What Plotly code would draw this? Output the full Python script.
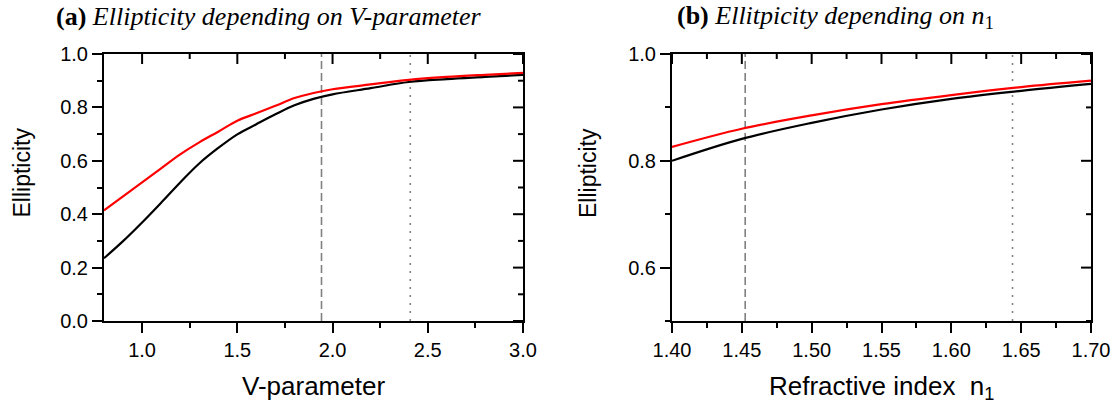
import numpy as np
import plotly.graph_objects as go

# ---------------- data ----------------
v_param = [0.8, 0.9, 1.0, 1.1, 1.2, 1.3, 1.4, 1.5, 1.6, 1.7, 1.8, 1.9, 2.0, 2.2, 2.4, 2.6, 2.8, 3.0]
ell_a_red = [0.414, 0.467, 0.519, 0.572, 0.624, 0.669, 0.709, 0.750, 0.778, 0.806, 0.835, 0.854, 0.868, 0.886, 0.903, 0.914, 0.922, 0.929]
ell_a_black = [0.235, 0.299, 0.369, 0.443, 0.519, 0.590, 0.648, 0.699, 0.737, 0.774, 0.808, 0.832, 0.849, 0.872, 0.895, 0.906, 0.914, 0.922]

n1 = [1.40, 1.45, 1.50, 1.55, 1.60, 1.65, 1.70]
ell_b_red = [0.826, 0.860, 0.885, 0.906, 0.923, 0.938, 0.950]
ell_b_black = [0.800, 0.841, 0.871, 0.896, 0.916, 0.931, 0.944]

vline_a_dashed = 1.942
vline_a_dotted = 2.408
vline_b_dashed = 1.4524
vline_b_dotted = 1.6438

range_a_x = [0.8, 3.0]
range_a_y = [0.0, 1.0]
range_b_x = [1.40, 1.70]
range_b_y = [0.5, 1.0]

# tick spacing (major, minor)
dtick_a_x = (0.5, 0.25)
dtick_a_y = (0.2, 0.1)
dtick_b_x = (0.05, 0.025)
dtick_b_y = (0.2, 0.1)

# ---------------- layout geometry ----------------
W, H = 1115, 403
def px(x):
    return x / W
def py(y):
    return 1 - y / H

PLOT_L_A, PLOT_R_A = 104, 523
PLOT_L_B, PLOT_R_B = 672, 1091
PLOT_T, PLOT_B = 54, 321
dom_a = [px(PLOT_L_A), px(PLOT_R_A)]
dom_b = [px(PLOT_L_B), px(PLOT_R_B)]
dom_y = [py(PLOT_B), py(PLOT_T)]

TICKFONT = dict(family="Liberation Sans, Arial, sans-serif", size=20, color="black")
XTITLEFONT = dict(family="Liberation Sans, Arial, sans-serif", size=26, color="black")
YTITLEFONT = dict(family="Liberation Sans, Arial, sans-serif", size=23, color="black")
SERIF = dict(family="Liberation Serif, Times New Roman, serif", size=26, color="black")

MAJOR_LEN, MINOR_LEN = 10, 5

fig = go.Figure()

# main curves
fig.add_trace(go.Scatter(x=v_param, y=ell_a_black, mode="lines", line=dict(color="black", width=2.2, shape="spline"),
                         xaxis="x", yaxis="y", showlegend=False))
fig.add_trace(go.Scatter(x=v_param, y=ell_a_red, mode="lines", line=dict(color="#ff0000", width=2.2, shape="spline"),
                         xaxis="x", yaxis="y", showlegend=False))
fig.add_trace(go.Scatter(x=n1, y=ell_b_black, mode="lines", line=dict(color="black", width=2.2, shape="spline"),
                         xaxis="x2", yaxis="y2", showlegend=False))
fig.add_trace(go.Scatter(x=n1, y=ell_b_red, mode="lines", line=dict(color="#ff0000", width=2.2, shape="spline"),
                         xaxis="x2", yaxis="y2", showlegend=False))

# inward-pointing mirror ticks on the top and right frame edges (computed from ranges / tick spacing)
def tick_values(rng, step):
    start = np.ceil(rng[0] / step - 1e-9) * step
    return [round(v, 6) for v in np.arange(start, rng[1] + step * 1e-6, step)]

def is_major(v, major):
    return abs(v / major - round(v / major)) < 1e-6

def mirror_ticks(xr, yr, dx, dy, wpx, hpx, xa, ya):
    xs, ys = [], []
    ylen = (yr[1] - yr[0]) / hpx
    xlen = (xr[1] - xr[0]) / wpx
    for v in tick_values(xr, dx[1]):
        L = (MAJOR_LEN if is_major(v, dx[0]) else MINOR_LEN) * ylen
        xs += [v, v, None]
        ys += [yr[1], yr[1] - L, None]
    for v in tick_values(yr, dy[1]):
        L = (MAJOR_LEN if is_major(v, dy[0]) else MINOR_LEN) * xlen
        xs += [xr[1], xr[1] - L, None]
        ys += [v, v, None]
    fig.add_trace(go.Scatter(x=xs, y=ys, mode="lines", line=dict(color="black", width=2),
                             xaxis=xa, yaxis=ya, showlegend=False, hoverinfo="skip", cliponaxis=False))

mirror_ticks(range_a_x, range_a_y, dtick_a_x, dtick_a_y, PLOT_R_A - PLOT_L_A, PLOT_B - PLOT_T, "x", "y")
mirror_ticks(range_b_x, range_b_y, dtick_b_x, dtick_b_y, PLOT_R_B - PLOT_L_B, PLOT_B - PLOT_T, "x2", "y2")

# vertical reference lines
GREY = "#808080"
fig.add_vline(x=vline_a_dashed, line=dict(color=GREY, width=1.6, dash="8px,4px"), xref="x", yref="y", layer="below")
fig.add_vline(x=vline_a_dotted, line=dict(color=GREY, width=1.6, dash="2px,6px"), xref="x", yref="y", layer="below")
fig.add_vline(x=vline_b_dashed, line=dict(color=GREY, width=1.6, dash="8px,4px"), xref="x2", yref="y2", layer="below")
fig.add_vline(x=vline_b_dotted, line=dict(color=GREY, width=1.6, dash="2px,6px"), xref="x2", yref="y2", layer="below")

def main_axis(dom, rng, dt, fmt, anchor, side):
    return dict(domain=dom, range=rng, anchor=anchor, side=side, showgrid=False, zeroline=False,
                showline=True, linecolor="black", linewidth=2, mirror=True, automargin=False,
                ticks="outside", ticklen=MAJOR_LEN, tickwidth=2, tickcolor="black",
                tick0=0, dtick=dt[0], tickformat=fmt, tickfont=TICKFONT,
                minor=dict(ticks="outside", ticklen=MINOR_LEN, tickwidth=2, tickcolor="black",
                           dtick=dt[1], tick0=0, showgrid=False),
                fixedrange=True)

fig.update_layout(
    width=W, height=H, autosize=False,
    margin=dict(l=0, r=0, t=0, b=0, autoexpand=False),
    paper_bgcolor="white", plot_bgcolor="white",
    xaxis=main_axis(dom_a, range_a_x, dtick_a_x, ".1f", "y", "bottom"),
    yaxis=main_axis(dom_y, range_a_y, dtick_a_y, ".1f", "x", "left"),
    xaxis2=main_axis(dom_b, range_b_x, dtick_b_x, ".2f", "y2", "bottom"),
    yaxis2=main_axis(dom_y, range_b_y, dtick_b_y, ".1f", "x2", "left"),
)

annotations = [
    dict(text="<b>(a)</b> <i>Ellipticity depending on V-parameter</i>", x=px(54), y=py(17),
         xanchor="left", yanchor="middle", font=SERIF),
    dict(text="<b>(b)</b> <i>Ellitpicity depending on n</i><sub>1</sub>", x=px(675), y=py(17),
         xanchor="left", yanchor="middle", font=SERIF),
    dict(text="V-parameter", x=(dom_a[0] + dom_a[1]) / 2, y=py(369), xanchor="center", yanchor="top", font=XTITLEFONT),
    dict(text="Refractive index  n<sub>1</sub>", x=(dom_b[0] + dom_b[1]) / 2, y=py(369), xanchor="center", yanchor="top", font=XTITLEFONT),
    dict(text="Ellipticity", x=px(21.5), y=py(173), textangle=-90, xanchor="center", yanchor="middle", font=YTITLEFONT),
    dict(text="Ellipticity", x=px(588), y=py(173), textangle=-90, xanchor="center", yanchor="middle", font=YTITLEFONT),
]
for a in annotations:
    a.update(xref="paper", yref="paper", showarrow=False)
fig.update_layout(annotations=annotations)

# remove the default 8px page margin so the figure fills the window exactly
fig.write_html("out.html", config={"displayModeBar": False},
               post_script="document.body.style.margin='0';document.body.style.overflow='hidden';")
